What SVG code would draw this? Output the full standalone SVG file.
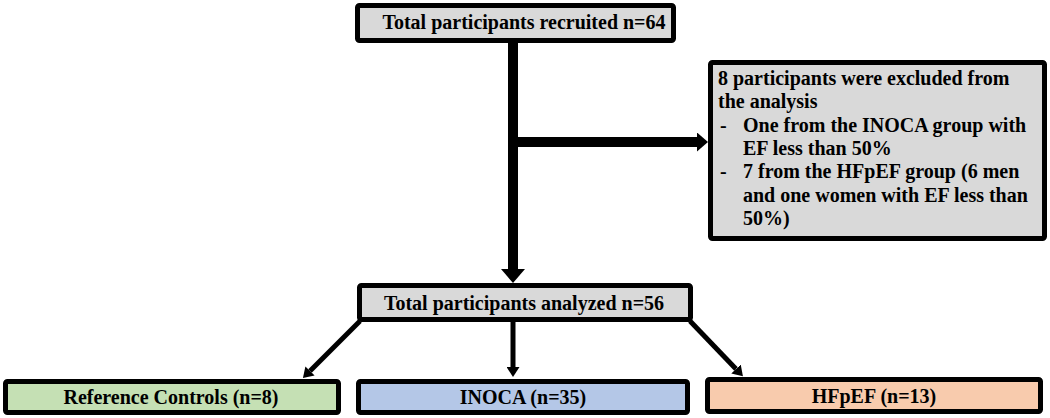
<svg xmlns="http://www.w3.org/2000/svg" width="1050" height="418" viewBox="0 0 1050 418">
<style>
.box{stroke:#000;stroke-width:5;}
.gray{fill:#d9d9d9;}
.green{fill:#c5e0b4;}
.blue{fill:#b4c7e7;}
.orange{fill:#f8cbad;}
text{font-family:"Liberation Serif","Times New Roman",serif;font-weight:bold;font-size:20px;fill:#000;}
.c{text-anchor:middle;}
.thick{stroke:#000;stroke-width:10;fill:none;}
.thin{stroke:#000;stroke-width:5;fill:none;}
</style>
<defs>
<marker id="arrowBig" markerUnits="userSpaceOnUse" viewBox="0 0 14 24" markerWidth="14" markerHeight="24" refX="0" refY="12" orient="auto">
<path d="M0,0 L14,12 L0,24 Z" fill="#000"/>
</marker>
<marker id="arrowMed" markerUnits="userSpaceOnUse" viewBox="0 0 11 19" markerWidth="11" markerHeight="19" refX="0" refY="9.5" orient="auto">
<path d="M0,0 L11,9.5 L0,19 Z" fill="#000"/>
</marker>
<marker id="arrowSmall" markerUnits="userSpaceOnUse" viewBox="0 0 10 13" markerWidth="10" markerHeight="13" refX="0" refY="6.5" orient="auto">
<path d="M0,0 L10,6.5 L0,13 Z" fill="#000"/>
</marker>
</defs>
<g id="connectors">
<path class="thick" d="M513,43 V269" marker-end="url(#arrowBig)"/>
<path class="thick" d="M513,142 H697" marker-end="url(#arrowMed)"/>
<path class="thin" d="M360,321 L310,371" marker-end="url(#arrowSmall)"/>
<path class="thin" d="M513,322 V367" marker-end="url(#arrowSmall)"/>
<path class="thin" d="M690,321 L736,369" marker-end="url(#arrowSmall)"/>
</g>
<g id="recruited">
<rect class="box gray" x="357.5" y="5.5" width="316" height="35" rx="2"/>
<text class="c" x="524" y="29">Total participants recruited n=64</text>
</g>
<g id="excluded">
<rect class="box gray" x="710.5" y="62.5" width="334" height="176" rx="2"/>
<text x="718" y="85">8 participants were excluded from</text>
<text x="718" y="108">the analysis</text>
<text x="720" y="132">-</text>
<text x="743" y="132">One from the INOCA group with</text>
<text x="743" y="155">EF less than 50%</text>
<text x="720" y="178">-</text>
<text x="743" y="178">7 from the HFpEF group (6 men</text>
<text x="743" y="202">and one women with EF less than</text>
<text x="743" y="225">50%)</text>
</g>
<g id="analyzed">
<rect class="box gray" x="359.5" y="285.5" width="331" height="34" rx="2"/>
<text class="c" x="524" y="310">Total participants analyzed n=56</text>
</g>
<g id="reference">
<rect class="box green" x="5.5" y="381.5" width="333" height="31" rx="2"/>
<text class="c" x="171" y="404">Reference Controls (n=8)</text>
</g>
<g id="inoca">
<rect class="box blue" x="358.5" y="381.5" width="329" height="31" rx="2"/>
<text class="c" x="523" y="404">INOCA (n=35)</text>
</g>
<g id="hfpef">
<rect class="box orange" x="707.5" y="379.5" width="333" height="32" rx="2"/>
<text class="c" x="874" y="403">HFpEF (n=13)</text>
</g>
</svg>
